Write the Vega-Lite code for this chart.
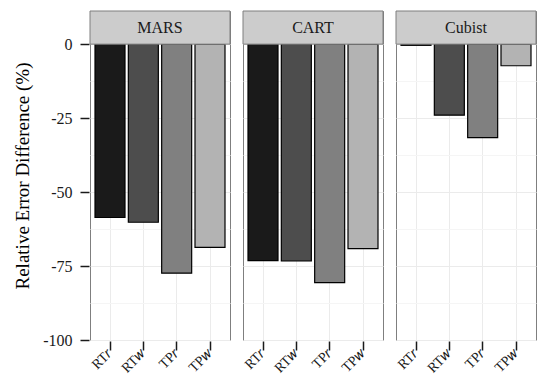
{
  "$schema": "https://vega.github.io/schema/vega-lite/v6.json",
  "padding": {"left": 13, "top": 10, "right": 3, "bottom": 0},
  "config": {
    "font": "Liberation Serif",
    "axis": {"labelFont": "Liberation Serif", "titleFont": "Liberation Serif", "ticks": true},
    "text": {"font": "Liberation Serif"},
    "view": {"stroke": "#7f7f7f", "strokeWidth": 1}
  },
  "data": {
    "values": [
      {"model": "MARS", "method": "RT_r", "value": -58.6},
      {"model": "MARS", "method": "RT_w", "value": -60.2},
      {"model": "MARS", "method": "TP_r", "value": -77.4},
      {"model": "MARS", "method": "TP_w", "value": -68.7},
      {"model": "CART", "method": "RT_r", "value": -73.2},
      {"model": "CART", "method": "RT_w", "value": -73.3},
      {"model": "CART", "method": "TP_r", "value": -80.6},
      {"model": "CART", "method": "TP_w", "value": -69.1},
      {"model": "Cubist", "method": "RT_r", "value": -0.4},
      {"model": "Cubist", "method": "RT_w", "value": -24.0},
      {"model": "Cubist", "method": "TP_r", "value": -31.6},
      {"model": "Cubist", "method": "TP_w", "value": -7.3}
    ]
  },
  "facet": {
    "column": {"field": "model", "type": "nominal", "sort": ["MARS", "CART", "Cubist"], "header": null}
  },
  "spacing": 11,
  "spec": {
    "width": 140,
    "height": 329,
    "layer": [
      {
        "mark": {"type": "bar", "stroke": "black", "strokeWidth": 1.2},
        "encoding": {
          "x": {
            "field": "method",
            "type": "nominal",
            "sort": ["RT_r", "RT_w", "TP_r", "TP_w"],
            "scale": {"paddingInner": 0.1, "paddingOuter": 0.15},
            "axis": {
              "title": null,
              "domain": false,
              "grid": true,
              "gridColor": "#ebebeb",
              "bandPosition": 0.5,
              "ticks": true,
              "tickSize": 9,
              "tickWidth": 1.5,
              "tickColor": "#1a1a1a",
              "labelAngle": -45,
              "labelAlign": "right",
              "labelBaseline": "middle",
              "labelFontSize": 14,
              "labelColor": "#1a1a1a",
              "labelPadding": 1,
              "labelExpr": "datum.value == 'RT_r' ? 'RT𝑟' : datum.value == 'RT_w' ? 'RT𝑤' : datum.value == 'TP_r' ? 'TP𝑟' : 'TP𝑤'"
            }
          },
          "y": {
            "field": "value",
            "type": "quantitative",
            "scale": {"domain": [-100, 11.2], "nice": false, "zero": false},
            "axis": {
              "title": "Relative Error Difference (%)",
              "titleFontSize": 19,
              "titleFontWeight": "normal",
              "titleColor": "black",
              "titlePadding": 10,
              "values": [-100, -87.5, -75, -62.5, -50, -37.5, -25, -12.5, 0],
              "labelExpr": "datum.value % 25 === 0 ? toString(datum.value) : ''",
              "domain": false,
              "grid": true,
              "gridColor": {"condition": {"test": "datum.value % 25 === 0", "value": "#ebebeb"}, "value": "#f5f5f5"},
              "ticks": true,
              "tickColor": {"condition": {"test": "datum.value % 25 === 0", "value": "#1a1a1a"}, "value": "transparent"},
              "tickSize": 9,
              "tickWidth": 1.5,
              "labelFontSize": 16,
              "labelColor": "#1a1a1a",
              "labelPadding": 8
            }
          },
          "fill": {
            "field": "method",
            "type": "nominal",
            "scale": {"domain": ["RT_r", "RT_w", "TP_r", "TP_w"], "range": ["#1a1a1a", "#4d4d4d", "#808080", "#b3b3b3"]},
            "legend": null
          }
        }
      },
      {
        "transform": [{"filter": "datum.method === 'RT_r'"}],
        "mark": {"type": "rect", "fill": "#cccccc", "stroke": "#7f7f7f", "strokeWidth": 1},
        "encoding": {
          "y": {"datum": 0, "type": "quantitative"},
          "y2": {"datum": 11.2}
        }
      },
      {
        "transform": [{"filter": "datum.method === 'RT_r'"}],
        "mark": {"type": "text", "fontSize": 16, "color": "#1a1a1a", "baseline": "middle", "font": "Liberation Serif"},
        "encoding": {
          "y": {"datum": 5.6, "type": "quantitative"},
          "text": {"field": "model", "type": "nominal"}
        }
      }
    ]
  }
}
